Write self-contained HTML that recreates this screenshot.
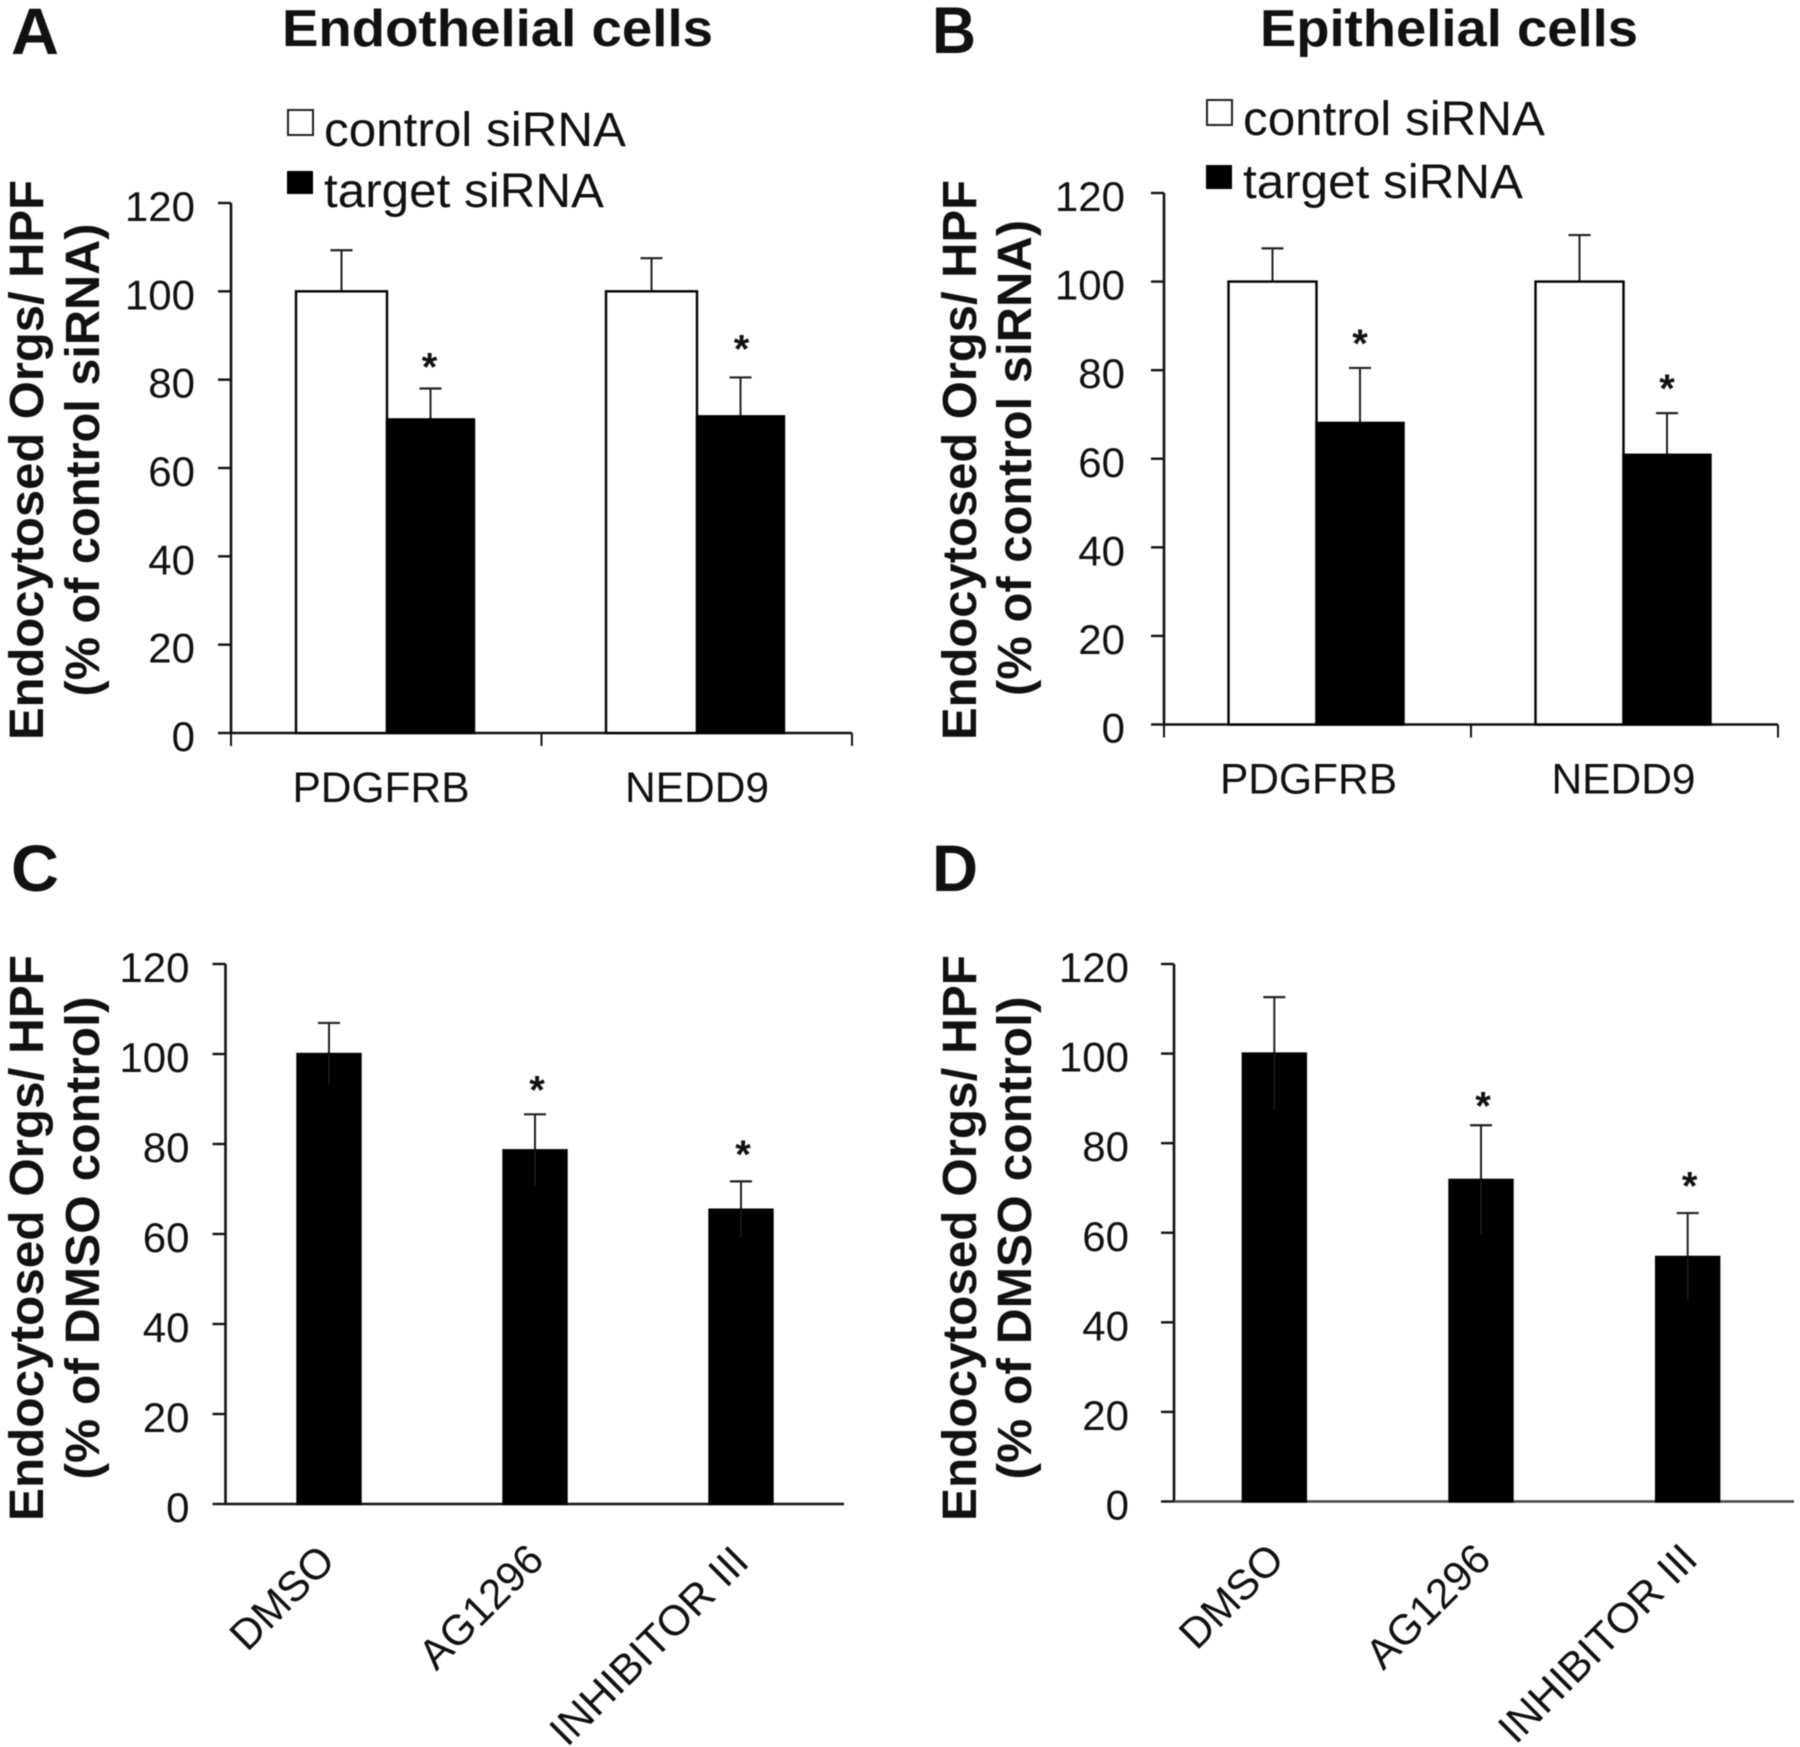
<!DOCTYPE html>
<html>
<head>
<meta charset="utf-8">
<style>
html,body{margin:0;padding:0;background:#fff;}
svg{display:block;filter:blur(0.5px);}
text{font-family:"Liberation Sans",Arial,sans-serif;fill:#111;}
.ttl{font-weight:700;font-size:52px;}
.lab{font-weight:700;font-size:66px;}
.ya{font-weight:700;font-size:48px;}
.leg{font-size:48px;}
</style>
</head>
<body>
<svg id="fig" xmlns="http://www.w3.org/2000/svg" width="1800" height="1747" viewBox="0 0 1800 1747">
<rect x="0" y="0" width="1800" height="1747" fill="#fff"/>

<text class="lab" x="11" y="54" textLength="48" lengthAdjust="spacingAndGlyphs">A</text>
<text class="lab" x="932" y="53" textLength="44" lengthAdjust="spacingAndGlyphs">B</text>
<text class="lab" x="11" y="891" textLength="48" lengthAdjust="spacingAndGlyphs">C</text>
<text class="lab" x="932" y="891" textLength="46" lengthAdjust="spacingAndGlyphs">D</text>

<text class="ttl" x="282" y="46" textLength="431" lengthAdjust="spacingAndGlyphs">Endothelial cells</text>
<text class="ttl" x="1260" y="46" textLength="378" lengthAdjust="spacingAndGlyphs">Epithelial cells</text>

<g>
<rect x="288" y="110" width="25" height="25" fill="#fff" stroke="#222" stroke-width="2"/>
<text class="leg" x="324" y="146" textLength="302" lengthAdjust="spacingAndGlyphs">control siRNA</text>
<rect x="287" y="171" width="26" height="23" fill="#000"/>
<text class="leg" x="324" y="207" textLength="280" lengthAdjust="spacingAndGlyphs">target siRNA</text>
</g>
<g>
<rect x="1207" y="100" width="25" height="25" fill="#fff" stroke="#222" stroke-width="2"/>
<text class="leg" x="1243" y="135" textLength="302" lengthAdjust="spacingAndGlyphs">control siRNA</text>
<rect x="1206" y="165" width="26" height="24" fill="#000"/>
<text class="leg" x="1243" y="198" textLength="280" lengthAdjust="spacingAndGlyphs">target siRNA</text>
</g>

<text class="ya" transform="translate(43 460) rotate(-90)" text-anchor="middle" textLength="560" lengthAdjust="spacingAndGlyphs">Endocytosed Orgs/ HPF</text>
<text class="ya" transform="translate(99 460) rotate(-90)" text-anchor="middle" textLength="473" lengthAdjust="spacingAndGlyphs">(% of control siRNA)</text>
<text class="ya" transform="translate(976 460) rotate(-90)" text-anchor="middle" textLength="560" lengthAdjust="spacingAndGlyphs">Endocytosed Orgs/ HPF</text>
<text class="ya" transform="translate(1031 458) rotate(-90)" text-anchor="middle" textLength="476" lengthAdjust="spacingAndGlyphs">(% of control siRNA)</text>
<text class="ya" transform="translate(43 1238) rotate(-90)" text-anchor="middle" textLength="566" lengthAdjust="spacingAndGlyphs">Endocytosed Orgs/ HPF</text>
<text class="ya" transform="translate(99 1238) rotate(-90)" text-anchor="middle" textLength="483" lengthAdjust="spacingAndGlyphs">(% of DMSO control)</text>
<text class="ya" transform="translate(976 1238) rotate(-90)" text-anchor="middle" textLength="566" lengthAdjust="spacingAndGlyphs">Endocytosed Orgs/ HPF</text>
<text class="ya" transform="translate(1031 1238) rotate(-90)" text-anchor="middle" textLength="483" lengthAdjust="spacingAndGlyphs">(% of DMSO control)</text>
</svg>

<script>
const yTickValues = [0, 20, 40, 60, 80, 100, 120];

const siRnaCategories = ['PDGFRB', 'NEDD9'];
const drugCategories = ['DMSO', 'AG1296', 'INHIBITOR III'];

const panelAControl = [100, 100];
const panelAControlErr = [9.3, 7.5];
const panelATarget = [71, 71.7];
const panelATargetErr = [7, 8.8];
const panelAStars = [84.3, 88.4];

const panelBControl = [100, 100];
const panelBControlErr = [7.5, 10.5];
const panelBTarget = [68.1, 60.9];
const panelBTargetErr = [12.4, 9.4];
const panelBStars = [87.5, 77.3];

const panelCValues = [100, 78.6, 65.4];
const panelCErr = [6.9, 8, 6.3];
const panelCStars = [null, 93.4, 79.1];

const panelDValues = [100, 71.8, 54.6];
const panelDErr = [12.6, 12.2, 9.8];
const panelDStars = [null, 89.8, 71.9];

const svg = document.getElementById('fig');
const NS = 'http://www.w3.org/2000/svg';

function make(parent, tag, attrs, txt) {
  const el = document.createElementNS(NS, tag);
  for (const k in attrs) el.setAttribute(k, attrs[k]);
  if (txt !== undefined) el.textContent = txt;
  parent.appendChild(el);
  return el;
}

function axisFns(frame) {
  return {
    y: v => frame.y0 - (v / 120) * (frame.y0 - frame.y120),
    band: i => frame.bandX0 + (i + 0.5) * (frame.x1 - frame.bandX0) / frame.n
  };
}

function drawAxes(g, frame, fn, id) {
  const yAxis = make(g, 'line', {x1: frame.x0, x2: frame.x0, y1: frame.y120, y2: frame.y0, stroke: '#111', 'stroke-width': 2.6});
  
  
  yTickValues.forEach(v => {
    const t = make(g, 'line', {x1: frame.x0 - 13, x2: frame.x0, y1: fn.y(v), y2: fn.y(v), stroke: '#111', 'stroke-width': 2.4});
    
    
    const l = make(g, 'text', {x: frame.x0 - frame.labelGap, y: fn.y(v) + 18, 'text-anchor': 'end', 'font-size': 42}, String(v));
    
    
  });
  const xAxis = make(g, 'line', {x1: frame.x0, x2: frame.x1End, y1: frame.y0, y2: frame.y0, stroke: frame.xAxisColor, 'stroke-width': 2.6});
  
  
}

function drawBar(g, x, width, value, err, fn, fill, id, innerErr) {
  const cx = x + width / 2;
  const top = fn.y(value);
  const errTop = fn.y(value + err);
  const stem = make(g, 'line', {x1: cx, x2: cx, y1: errTop, y2: top, stroke: '#222', 'stroke-width': 2});
  
  
  const cap = make(g, 'line', {x1: cx - 11, x2: cx + 11, y1: errTop, y2: errTop, stroke: '#222', 'stroke-width': 2.2});
  
  
  const rect = make(g, 'rect', {x: x, y: top, width: width, height: fn.y(0) - top, fill: fill, stroke: '#000', 'stroke-width': 2.4});
  
  
  if (innerErr) {
    const low = make(g, 'line', {x1: cx, x2: cx, y1: top, y2: fn.y(value - err), stroke: '#1e1e1e', 'stroke-width': 1.4});
    
    
  }
}

function drawStar(g, cx, level, fn, id) {
  const s = make(g, 'text', {x: cx, y: fn.y(level) + 20, 'text-anchor': 'middle', 'font-size': 40, 'font-weight': 700}, '*');
  
  
}

function drawGrouped(frame, id, control, controlErr, target, targetErr, stars) {
  const g = make(svg, 'g', {});
  
  
  const fn = axisFns(frame);
  drawAxes(g, frame, fn, id);
  siRnaCategories.forEach((c, i) => {
    const cx = fn.band(i) + frame.groupDx;
    drawBar(g, cx - frame.controlW, frame.controlW, control[i], controlErr[i], fn, '#fff', id + '-control-' + c.toLowerCase(), false);
    drawBar(g, cx, frame.targetW, target[i], targetErr[i], fn, '#000', id + '-target-' + c.toLowerCase(), false);
    drawStar(g, cx + frame.targetW / 2 + frame.starDx[i], stars[i], fn, id + '-' + c.toLowerCase());
    const l = make(g, 'text', {x: fn.band(i) + frame.labelDx[i], y: frame.y0 + 69, 'text-anchor': 'middle', 'font-size': 42.5}, c);
    
    
  });
  for (let i = 0; i <= siRnaCategories.length; i++) {
    const tx = frame.x0 + i * (frame.x1 - frame.x0) / siRnaCategories.length;
    const t = make(g, 'line', {x1: tx, x2: tx, y1: frame.y0, y2: frame.y0 + 13, stroke: '#111', 'stroke-width': 2});
    
    
  }
}

function drawSingle(frame, id, values, errs, stars) {
  const g = make(svg, 'g', {});
  
  
  const fn = axisFns(frame);
  drawAxes(g, frame, fn, id);
  drugCategories.forEach((c, i) => {
    const cx = fn.band(i);
    const key = c.toLowerCase().replace(/ /g, '-');
    drawBar(g, cx - frame.barW / 2, frame.barW, values[i], errs[i], fn, '#000', id + '-' + key, true);
    if (stars[i] !== null) drawStar(g, cx + 2, stars[i], fn, id + '-' + key);
    const ax = cx + frame.labelDx[i];
    const ay = frame.y0 + frame.labelDy[i];
    const l = make(g, 'text', {x: ax, y: ay, 'text-anchor': 'end', 'font-size': 42.3, transform: 'rotate(-45 ' + ax + ' ' + ay + ')'}, c);
    
    
  });
}

drawGrouped({x0: 231, bandX0: 232, x1: 852, x1End: 852, y0: 733, y120: 203, n: 2, controlW: 91, targetW: 87, groupDx: 0, labelGap: 36, xAxisColor: '#111', labelDx: [-6, 0], starDx: [-1, 1]},
  'a', panelAControl, panelAControlErr, panelATarget, panelATargetErr, panelAStars);
drawGrouped({x0: 1164, bandX0: 1164, x1: 1778, x1End: 1778, y0: 724.5, y120: 193, n: 2, controlW: 88, targetW: 87, groupDx: -1, labelGap: 39, xAxisColor: '#111', labelDx: [-9, -1], starDx: [0, 0]},
  'b', panelBControl, panelBControlErr, panelBTarget, panelBTargetErr, panelBStars);
drawSingle({x0: 225.5, bandX0: 226, x1: 844, x1End: 844, y0: 1504, y120: 964, n: 3, barW: 63, labelGap: 36, xAxisColor: '#111', labelDx: [8, 11, 10], labelDy: [59, 58, 60]},
  'c', panelCValues, panelCErr, panelCStars);
drawSingle({x0: 1174, bandX0: 1171, x1: 1791, x1End: 1794, y0: 1501.5, y120: 964, n: 3, barW: 63, labelGap: 45, xAxisColor: '#444', labelDx: [12, 12, 12], labelDy: [60, 60, 60]},
  'd', panelDValues, panelDErr, panelDStars);
</script>
</body>
</html>
